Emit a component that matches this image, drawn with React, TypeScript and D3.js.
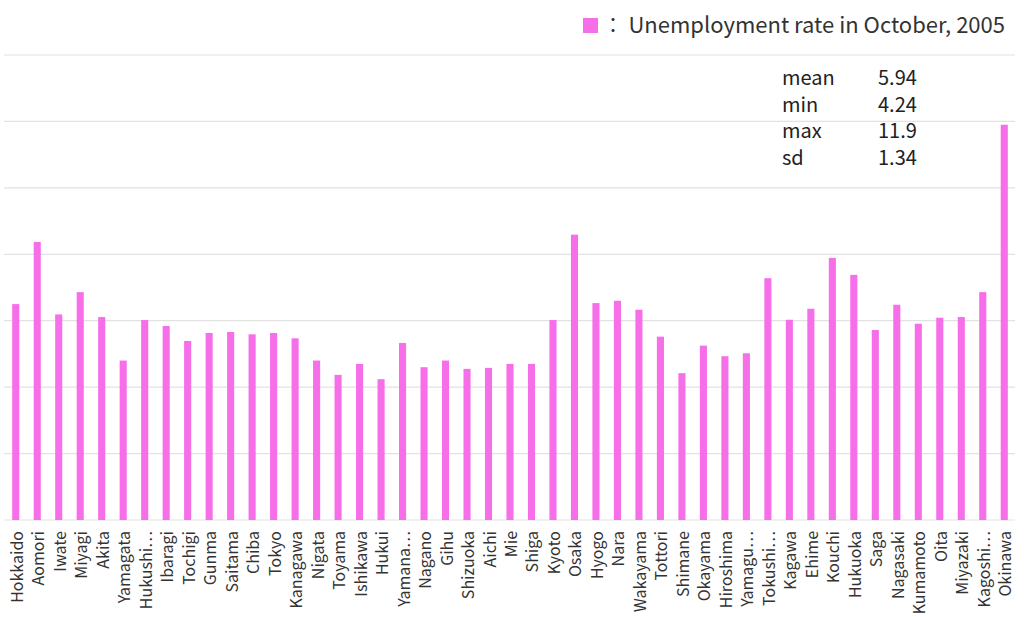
import React from "react";
import * as d3 from "d3";

const prefectures = [
  "Hokkaido", "Aomori", "Iwate", "Miyagi", "Akita", "Yamagata", "Hukushi…",
  "Ibaragi", "Tochigi", "Gunma", "Saitama", "Chiba", "Tokyo", "Kanagawa",
  "Nigata", "Toyama", "Ishikawa", "Hukui", "Yamana…", "Nagano", "Gihu",
  "Shizuoka", "Aichi", "Mie", "Shiga", "Kyoto", "Osaka", "Hyogo", "Nara",
  "Wakayama", "Tottori", "Shimane", "Okayama", "Hiroshima", "Yamagu…",
  "Tokushi…", "Kagawa", "Ehime", "Kouchi", "Hukuoka", "Saga", "Nagasaki",
  "Kumamoto", "Oita", "Miyazaki", "Kagoshi…", "Okinawa",
];

const rates = [
  6.5, 8.37, 6.19, 6.86, 6.11, 4.8, 6.02,
  5.84, 5.39, 5.63, 5.66, 5.59, 5.63, 5.47,
  4.8, 4.37, 4.7, 4.24, 5.33, 4.6, 4.8,
  4.55, 4.58, 4.7, 4.7, 6.02, 8.59, 6.53, 6.6,
  6.33, 5.52, 4.42, 5.25, 4.93, 5.02,
  7.28, 6.03, 6.36, 7.89, 7.38, 5.72, 6.48,
  5.91, 6.09, 6.11, 6.86, 11.9,
];

const gridTicks = [0, 2, 4, 6, 8, 10, 12, 14];

const statLabels = ["mean", "min", "max", "sd"];
const statValues = ["5.94", "4.24", "11.9", "1.34"];

const legendColon = "：";
const legendText = "Unemployment rate in October, 2005";

const W = 1024;
const H = 617;
const BAR = "#f76ee9";
const FONT = "'Noto Sans CJK JP', 'Noto Sans', sans-serif";

export default function App() {
  const x = d3
    .scaleBand<string>()
    .domain(prefectures)
    .range([5, 1015])
    .paddingInner(0.67)
    .paddingOuter(0.335);
  const y = d3.scaleLinear().domain([0, 14]).range([520, 55]);

  return (
    <svg
      width={W}
      height={H}
      style={{ position: "absolute", left: 0, top: 0, background: "#fff" }}
      fontFamily={FONT}
    >
      {gridTicks.map((t) => (
        <line
          key={t}
          x1={4}
          x2={1015}
          y1={y(t)}
          y2={y(t)}
          stroke="#e2e2e2"
          strokeWidth={1.2}
        />
      ))}
      {prefectures.map((p, i) => (
        <rect
          key={p}
          x={x(p)}
          y={y(rates[i])}
          width={x.bandwidth()}
          height={y(0) - y(rates[i])}
          fill={BAR}
        />
      ))}
      {prefectures.map((p) => {
        const cx = (x(p) as number) + x.bandwidth() / 2;
        return (
          <text
            key={p}
            transform={`translate(${cx},531) rotate(-90)`}
            textAnchor="end"
            dominantBaseline="central"
            fontSize={16}
            fill="#333"
          >
            {p}
          </text>
        );
      })}
      <rect x={583} y={18} width={15} height={15} fill={BAR} />
      <text x={603} y={33} fontSize={20} fill="#333">
        {legendColon}
      </text>
      <text x={1005} y={33} textAnchor="end" fontSize={22} fill="#333">
        {legendText}
      </text>
      {statLabels.map((s, i) => (
        <g key={s}>
          <text x={782} y={85 + i * 26.7} fontSize={20} fill="#222">
            {s}
          </text>
          <text x={878} y={85 + i * 26.7} fontSize={20} fill="#222">
            {statValues[i]}
          </text>
        </g>
      ))}
    </svg>
  );
}
